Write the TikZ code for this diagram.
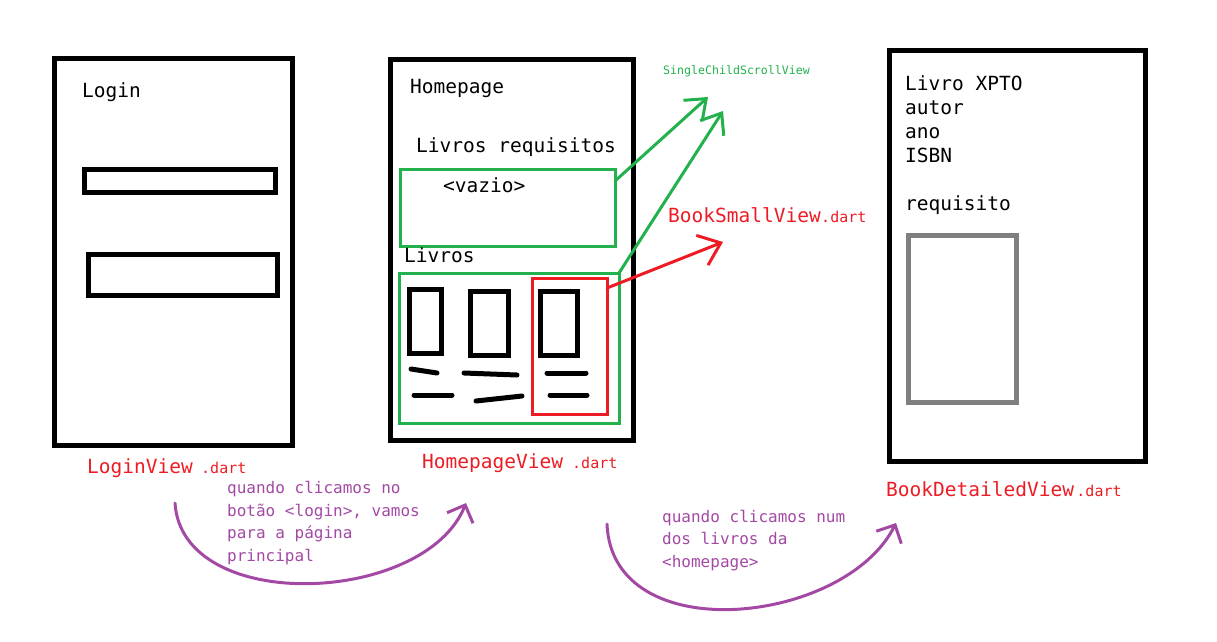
\documentclass[tikz,border=0pt]{standalone}
\usepackage{fontspec}
\setmonofont{DejaVu Sans Mono}
\usetikzlibrary{positioning,arrows.meta}
\definecolor{paintRed}{HTML}{ED1C24}
\definecolor{paintGreen}{HTML}{22B14C}
\definecolor{paintPurple}{HTML}{A349A4}
\definecolor{paintGray}{HTML}{7F7F7F}

\begin{document}
\begin{tikzpicture}[x=1pt, y=-1pt]
\tikzset{
    screenStyle/.style={rectangle, draw=black, line width=5pt, inner sep=0pt, outer sep=0pt, anchor=north west},
    greenStyle/.style={rectangle, draw=paintGreen, line width=3pt, inner sep=0pt, outer sep=0pt, anchor=north west},
    redStyle/.style={rectangle, draw=paintRed, line width=3pt, inner sep=0pt, outer sep=0pt, anchor=north west},
    grayStyle/.style={rectangle, draw=paintGray, line width=5pt, inner sep=0pt, outer sep=0pt, anchor=north west},
    textStyle/.style={inner sep=0pt, anchor=base west, align=left, font=\ttfamily\fontsize{19.5}{24}\selectfont},
    fileStyle/.style={textStyle, text=paintRed},
    dartStyle/.style={inner sep=0pt, anchor=base west, text=paintRed, font=\ttfamily\fontsize{15}{18}\selectfont},
    noteStyle/.style={inner sep=0pt, anchor=base west, align=left, text=paintPurple, font=\ttfamily\fontsize{16}{22.5}\selectfont},
    scribbleStyle/.style={line width=5pt, line cap=round},
    greenArrow/.style={-{Straight Barb[length=18pt, width=28pt]}, line width=3pt, line cap=round, paintGreen},
    redArrow/.style={-{Straight Barb[length=20pt, width=32pt]}, line width=3pt, line cap=round, paintRed},
    noteArrow/.style={-{Straight Barb[length=14pt, width=28pt]}, line width=3pt, line cap=round, paintPurple}
}
\useasboundingbox (0,0) rectangle (1217,641);

% login screen
\node[screenStyle, minimum width=238pt, minimum height=387pt] (login) at (54,58) {};
\node[textStyle] (loginTitle) at (82,97) {Login};
\node[screenStyle, minimum width=191pt, minimum height=23pt] (userField) at (84,169) {};
\node[screenStyle, minimum width=189pt, minimum height=41pt] (passField) at (88,254) {};
\node[fileStyle] (loginFile) at (87,473) {LoginView};
\node[dartStyle] (loginDart) at (201,473) {.dart};

% homepage screen
\node[screenStyle, minimum width=243pt, minimum height=381pt] (home) at (390,59) {};
\node[textStyle] (homeTitle) at (410,93) {Homepage};
\node[textStyle] (reqTitle) at (416,152) {Livros requisitos};
\node[greenStyle, minimum width=215pt, minimum height=77pt] (reqBox) at (400,169) {};
\node[textStyle] (reqEmpty) at (443,192) {<vazio>};
\node[textStyle] (booksTitle) at (404,262) {Livros};
\node[greenStyle, minimum width=220pt, minimum height=150pt] (booksBox) at (399,273) {};
\node[redStyle, minimum width=75pt, minimum height=136pt] (pickBox) at (532,278) {};
\node[screenStyle, minimum width=32pt, minimum height=64pt] (coverA) at (409,289) {};
\node[screenStyle, minimum width=38pt, minimum height=64pt] (coverB) at (470,291) {};
\node[screenStyle, minimum width=37pt, minimum height=64pt] (coverC) at (540,291) {};
\draw[scribbleStyle] (411,369) -- (437,373);
\draw[scribbleStyle] (464,373) -- (517,375);
\draw[scribbleStyle] (547,373) -- (586,373);
\draw[scribbleStyle] (414,395) -- (452,395);
\draw[scribbleStyle] (476,401) -- (522,396);
\draw[scribbleStyle] (550,395) -- (587,395);
\node[fileStyle] (homeFile) at (422,468) {HomepageView};
\node[dartStyle] (homeDart) at (572,468) {.dart};

% widgets
\node[inner sep=0pt, anchor=base west, text=paintGreen, font=\ttfamily\fontsize{11.6}{14}\selectfont] (scrollName) at (663,74) {SingleChildScrollView};
\coordinate (scrollTipA) at (708,97);
\coordinate (scrollTipB) at (723,111);
\draw[greenArrow] ([yshift=-12pt]reqBox.north east) -- (scrollTipA);
\draw[greenArrow] (booksBox.north east) -- (scrollTipB);
\node[fileStyle] (smallFile) at (668,222) {BookSmallView};
\node[dartStyle, right=0pt of smallFile.base east, anchor=base west] (smallDart) {.dart};
\coordinate (smallTip) at (723,242);
\draw[redArrow] ([yshift=-10pt]pickBox.north east) -- (smallTip);

% detail screen
\node[screenStyle, minimum width=256pt, minimum height=411pt] (detail) at (889,50) {};
\node[textStyle] (detailText) at (905,210) {Livro XPTO\\autor\\ano\\ISBN\\[24pt]requisito};
\node[grayStyle, minimum width=108pt, minimum height=167pt] (detailCover) at (908,235) {};
\node[fileStyle] (detailFile) at (886,496) {BookDetailedView};
\node[dartStyle, right=2pt of detailFile.base east, anchor=base west] (detailDart) {.dart};

% navigation
\node[noteStyle] (loginNote) at (227,561) {quando clicamos no\\bot\~ao <login>, vamos\\para a p\'agina\\principal};
\coordinate (loginFrom) at (175,503);
\coordinate (loginTo) at (466,503);
\draw[noteArrow] (loginFrom) .. controls (182,615) and (425,605) .. (loginTo);
\node[noteStyle] (homeNote) at (662,567) {quando clicamos num\\dos livros da\\<homepage>};
\coordinate (homeFrom) at (607,524);
\coordinate (homeTo) at (896,523);
\draw[noteArrow] (homeFrom) .. controls (612,650) and (845,625) .. (homeTo);

\end{tikzpicture}
\end{document}
